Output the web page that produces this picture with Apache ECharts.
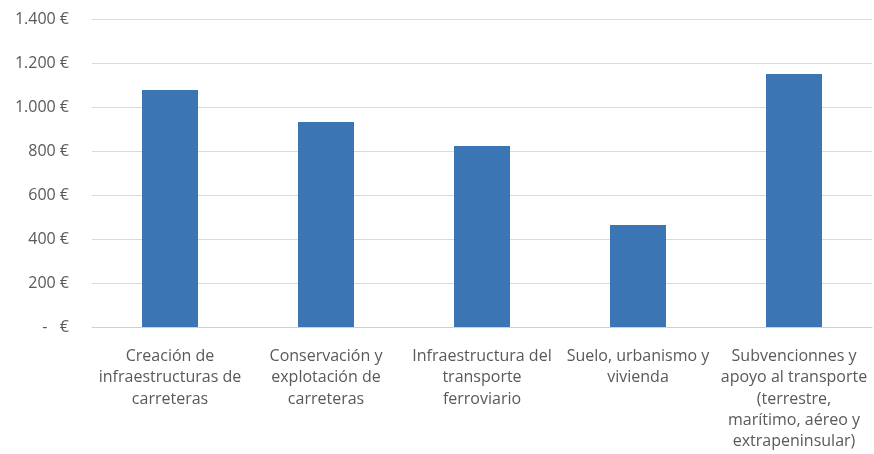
<!DOCTYPE html>
<html>
<head>
<meta charset="utf-8">
<script src="https://cdn.jsdelivr.net/npm/echarts@6/dist/echarts.min.js"></script>
<style>
  html, body { margin: 0; padding: 0; background: #ffffff; }
  #chart { width: 874px; height: 454px; }
</style>
</head>
<body>
<div id="chart"></div>
<script>
// Spending by programme (euros)
const categories = [
  'Creación de\ninfraestructuras de\ncarreteras',
  'Conservación y\nexplotación de\ncarreteras',
  'Infraestructura del\ntransporte\nferroviario',
  'Suelo, urbanismo y\nvivienda',
  'Subvencionnes y\napoyo al transporte\n(terrestre,\nmarítimo, aéreo y\nextrapeninsular)'
];
const values = [1077, 932, 823, 464, 1150];
const yTicks = [0, 200, 400, 600, 800, 1000, 1200, 1400];

function euro(v) {
  if (v === 0) return '-   €';
  return String(v).replace(/\B(?=(\d{3})+(?!\d))/g, '.') + ' €';
}

const chart = echarts.init(document.getElementById('chart'), null, { renderer: 'canvas' });
chart.setOption({
  animation: false,
  backgroundColor: '#ffffff',
  textStyle: { fontFamily: 'Open Sans' },
  grid: { left: 92, right: 2, top: 19, bottom: 127 },
  xAxis: {
    type: 'category',
    data: categories,
    axisTick: { show: false },
    axisLine: { show: true, lineStyle: { color: '#d0d0d0', width: 1 } },
    axisLabel: {
      interval: 0,
      margin: 19,
      color: '#595959',
      fontSize: 16,
      lineHeight: 21.2,
      fontFamily: 'Open Sans',
      align: 'center'
    }
  },
  yAxis: {
    type: 'value',
    min: yTicks[0],
    max: yTicks[yTicks.length - 1],
    interval: 200,
    axisLine: { show: false },
    axisTick: { show: false },
    splitLine: { lineStyle: { color: '#dadada', width: 1 } },
    axisLabel: {
      margin: 23,
      color: '#595959',
      fontSize: 16,
      fontFamily: 'Open Sans',
      formatter: euro
    }
  },
  series: [{
    type: 'bar',
    data: values,
    barWidth: 56,
    itemStyle: { color: '#3c75b4' }
  }]
});
</script>
</body>
</html>
